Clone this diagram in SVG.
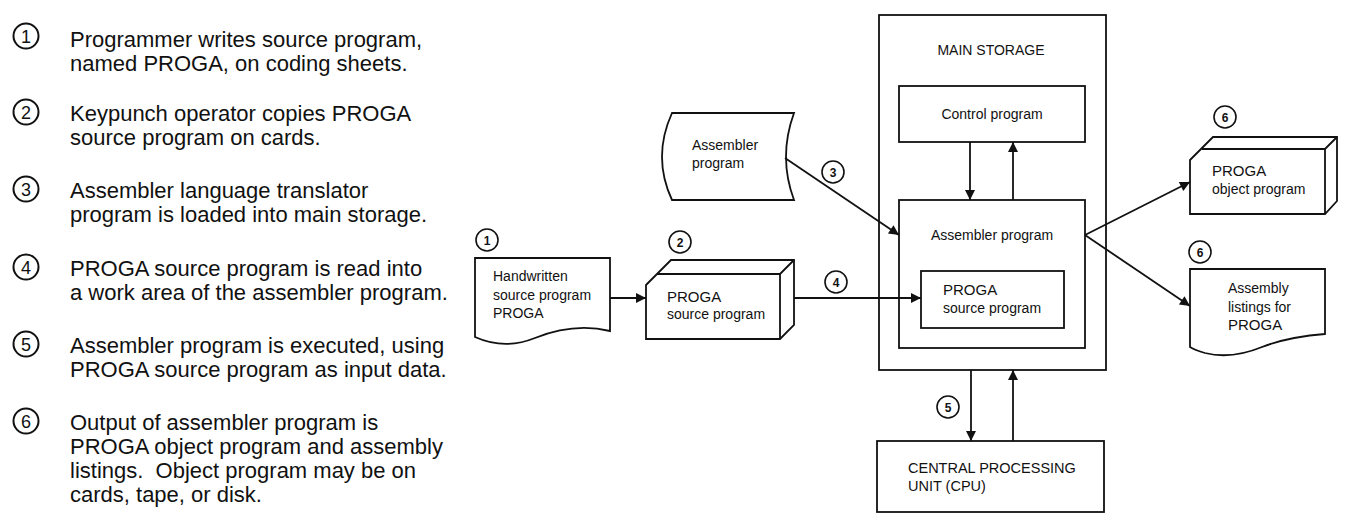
<svg xmlns="http://www.w3.org/2000/svg" width="1345" height="514" viewBox="0 0 1345 514">
<defs>
<style>
.box{fill:#fff;stroke:#111;stroke-width:1.8}
.ln{fill:none;stroke:#111;stroke-width:1.8}
.con{fill:none;stroke:#111;stroke-width:1.8;marker-end:url(#ah)}
.t{font-family:"Liberation Sans",Arial,sans-serif;font-size:14px;fill:#111}
.tl{font-family:"Liberation Sans",Arial,sans-serif;font-size:22px;fill:#111}
.nc{fill:#fff;stroke:#111;stroke-width:1.6}
.nt{font-family:"Liberation Sans",Arial,sans-serif;font-size:12px;font-weight:bold;fill:#111;text-anchor:middle}
.lc{fill:#fff;stroke:#111;stroke-width:2}
.lt{font-family:"Liberation Sans",Arial,sans-serif;font-size:18px;fill:#111;text-anchor:middle}
</style>
<marker id="ah" viewBox="0 0 10 10" refX="10" refY="5" markerWidth="12" markerHeight="10" markerUnits="userSpaceOnUse" orient="auto">
<path d="M0,0 L10,5 L0,10 Z" fill="#111"/>
</marker>
</defs>
<rect width="1345" height="514" fill="#fff"/>

<g id="legend">
<g id="step1"><circle class="lc" cx="26" cy="36" r="12.5"/><text class="lt" x="26" y="42.5">1</text>
<text class="tl" x="70" y="47">Programmer writes source program,</text>
<text class="tl" x="70" y="71">named PROGA, on coding sheets.</text></g>
<g id="step2"><circle class="lc" cx="26" cy="112" r="12.5"/><text class="lt" x="26" y="118.5">2</text>
<text class="tl" x="70" y="121">Keypunch operator copies PROGA</text>
<text class="tl" x="70" y="145">source program on cards.</text></g>
<g id="step3"><circle class="lc" cx="26" cy="189" r="12.5"/><text class="lt" x="26" y="195.5">3</text>
<text class="tl" x="70" y="198">Assembler language translator</text>
<text class="tl" x="70" y="222">program is loaded into main storage.</text></g>
<g id="step4"><circle class="lc" cx="26" cy="267" r="12.5"/><text class="lt" x="26" y="273.5">4</text>
<text class="tl" x="70" y="276">PROGA source program is read into</text>
<text class="tl" x="70" y="300">a work area of the assembler program.</text></g>
<g id="step5"><circle class="lc" cx="26" cy="344" r="12.5"/><text class="lt" x="26" y="350.5">5</text>
<text class="tl" x="70" y="353">Assembler program is executed, using</text>
<text class="tl" x="70" y="377">PROGA source program as input data.</text></g>
<g id="step6"><circle class="lc" cx="26" cy="421" r="12.5"/><text class="lt" x="26" y="427.5">6</text>
<text class="tl" x="70" y="430">Output of assembler program is</text>
<text class="tl" x="70" y="454">PROGA object program and assembly</text>
<text class="tl" x="70" y="478">listings.&#160; Object program may be on</text>
<text class="tl" x="70" y="502">cards, tape, or disk.</text></g>
</g>

<g id="main-storage">
<rect class="box" x="879" y="15" width="227" height="355"/>
<text class="t" x="991" y="55" text-anchor="middle">MAIN STORAGE</text>
</g>

<g id="control-program">
<rect class="box" x="899" y="86" width="186" height="56"/>
<text class="t" x="992" y="119" text-anchor="middle">Control program</text>
</g>

<g id="assembler-program-storage">
<rect class="box" x="899" y="200" width="186" height="148"/>
<text class="t" x="992" y="240" text-anchor="middle">Assembler program</text>
</g>

<g id="proga-source-storage">
<rect class="box" x="921" y="271" width="143" height="57"/>
<text class="t" x="943" y="295" style="font-size:15px">PROGA</text>
<text class="t" x="943" y="313">source program</text>
</g>

<g id="handwritten">
<path class="box" d="M475,258 H610 V331 C585,325 560,328 535,338 C515,346 495,346 475,337 Z"/>
<text class="t" x="493" y="281">Handwritten</text>
<text class="t" x="493" y="300">source program</text>
<text class="t" x="493" y="318">PROGA</text>
</g>

<g id="proga-cards">
<path class="box" d="M646,285 L671,260 H794 V325 L780,339 H646 Z"/>
<path class="ln" d="M657,274 H780 L794,260 M780,274 V339"/>
<text class="t" x="667" y="302" style="font-size:15px">PROGA</text>
<text class="t" x="667" y="319">source program</text>
</g>

<g id="assembler-program-file">
<path class="box" d="M672,113 H794 Q778,157 794,200 H672 Q652,157 672,113 Z"/>
<text class="t" x="692" y="150">Assembler</text>
<text class="t" x="692" y="168">program</text>
</g>

<g id="object-program">
<path class="box" d="M1190,160 L1213,137 H1337 V201 L1325,214 H1190 Z"/>
<path class="ln" d="M1202,149 H1325 L1337,137 M1325,149 V214"/>
<text class="t" x="1212" y="176" style="font-size:15px">PROGA</text>
<text class="t" x="1212" y="194">object program</text>
</g>

<g id="listings">
<path class="box" d="M1190,269 H1325 V334 C1300,336 1280,340 1262,347 C1245,354 1225,358 1205,353 C1198,351 1193,349 1190,347 Z"/>
<text class="t" x="1228" y="293">Assembly</text>
<text class="t" x="1228" y="312">listings for</text>
<text class="t" x="1228" y="330" style="font-size:15px">PROGA</text>
</g>

<g id="cpu">
<rect class="box" x="877" y="441" width="227" height="71"/>
<text class="t" x="908" y="473" style="font-size:14.5px">CENTRAL PROCESSING</text>
<text class="t" x="908" y="491" style="font-size:14.5px">UNIT (CPU)</text>
</g>

<g id="connectors">
<path class="con" d="M610,298 H646"/>
<path class="con" d="M785,158 L899,235"/>
<path class="con" d="M794,298 H921"/>
<path class="con" d="M970,142 V200"/>
<path class="con" d="M1013,200 V142"/>
<path class="con" d="M1085,235 L1190,182"/>
<path class="con" d="M1085,235 L1190,306"/>
<path class="con" d="M971,370 V441"/>
<path class="con" d="M1013,441 V370"/>
</g>

<g id="step-labels">
<g id="lbl1"><circle class="nc" cx="487" cy="240" r="11"/><text class="nt" x="487" y="244.5">1</text></g>
<g id="lbl2"><circle class="nc" cx="680" cy="242" r="11"/><text class="nt" x="680" y="246.5">2</text></g>
<g id="lbl3"><circle class="nc" cx="833" cy="172" r="11"/><text class="nt" x="833" y="176.5">3</text></g>
<g id="lbl4"><circle class="nc" cx="836" cy="282" r="11"/><text class="nt" x="836" y="286.5">4</text></g>
<g id="lbl5"><circle class="nc" cx="948" cy="407" r="11"/><text class="nt" x="948" y="411.5">5</text></g>
<g id="lbl6a"><circle class="nc" cx="1225" cy="117" r="11"/><text class="nt" x="1225" y="121.5">6</text></g>
<g id="lbl6b"><circle class="nc" cx="1200" cy="252" r="11"/><text class="nt" x="1200" y="256.5">6</text></g>
</g>
</svg>
